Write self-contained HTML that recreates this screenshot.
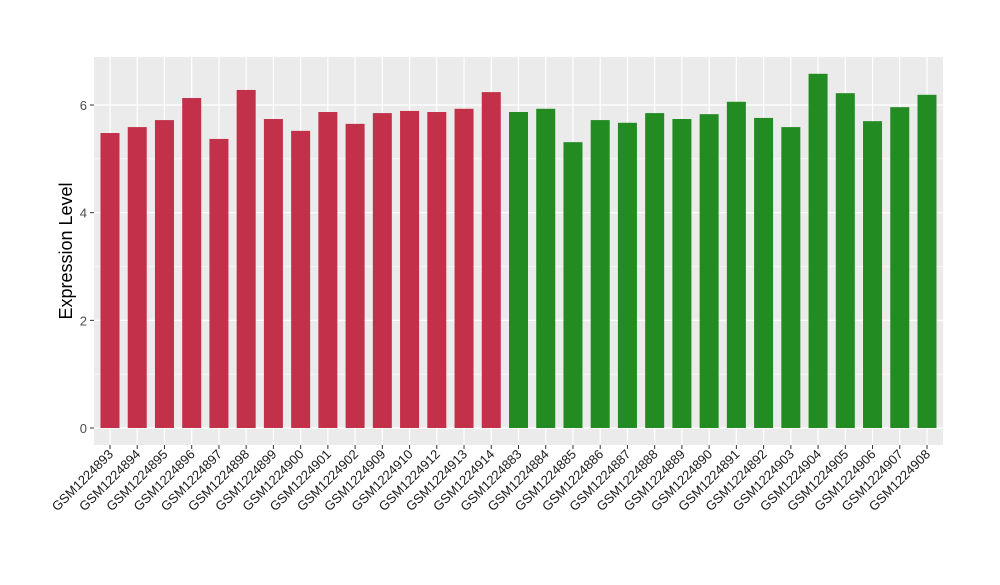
<!DOCTYPE html>
<html><head><meta charset="utf-8"><style>body{margin:0;background:#fff}svg text{font-family:"Liberation Sans",sans-serif}</style></head>
<body>
<svg id="chart" width="1000" height="580" xmlns="http://www.w3.org/2000/svg">
<rect x="94" y="57" width="849" height="388" fill="#EBEBEB"/>
<g id="grid"></g><g id="bars"></g><g id="yticks"></g><g id="xticks"></g>
<text transform="translate(72,251) rotate(-90)" text-anchor="middle" font-size="18" fill="#000">Expression Level</text>
</svg>
<script>
const categories=["GSM1224893","GSM1224894","GSM1224895","GSM1224896","GSM1224897","GSM1224898","GSM1224899","GSM1224900","GSM1224901","GSM1224902","GSM1224909","GSM1224910","GSM1224912","GSM1224913","GSM1224914","GSM1224883","GSM1224884","GSM1224885","GSM1224886","GSM1224887","GSM1224888","GSM1224889","GSM1224890","GSM1224891","GSM1224892","GSM1224903","GSM1224904","GSM1224905","GSM1224906","GSM1224907","GSM1224908"];
const values=[5.48,5.59,5.72,6.13,5.37,6.28,5.74,5.52,5.87,5.65,5.85,5.89,5.87,5.93,6.24,5.87,5.93,5.31,5.72,5.67,5.85,5.74,5.83,6.06,5.76,5.59,6.58,6.22,5.70,5.96,6.19];
const groups=["a","a","a","a","a","a","a","a","a","a","a","a","a","a","a","b","b","b","b","b","b","b","b","b","b","b","b","b","b","b","b"];
const yTicks=[0,2,4,6];
const colors={a:"#C3304A",b:"#228B22"};
const NS="http://www.w3.org/2000/svg";
const y=v=>428-v*53.83;
const x=i=>110+i*((927-110)/(categories.length-1));
const bw=19;
function mk(t,a,p){const e=document.createElementNS(NS,t);for(const k in a)e.setAttribute(k,a[k]);p.appendChild(e);return e;}
const grid=document.getElementById('grid');
for(let v=1;v<7;v+=2){const l=mk('line',{x1:94,x2:943,y1:y(v),y2:y(v),stroke:'#fff','stroke-width':0.6},grid);

}
yTicks.forEach(v=>{const l=mk('line',{x1:94,x2:943,y1:y(v),y2:y(v),stroke:'#fff','stroke-width':1.2},grid);


const tk=mk('line',{x1:90,x2:94,y1:y(v),y2:y(v),stroke:'#333'},document.getElementById('yticks'));


const t=mk('text',{x:87,y:y(v)+5,'text-anchor':'end','font-size':13,fill:'#4D4D4D'},document.getElementById('yticks'));
t.textContent=v;

});
categories.forEach((c,i)=>{const l=mk('line',{x1:x(i),x2:x(i),y1:57,y2:445,stroke:'#fff','stroke-width':1.2},grid);


const r=mk('rect',{x:x(i)-bw/2,y:y(values[i]),width:bw,height:y(0)-y(values[i]),fill:colors[groups[i]]},document.getElementById('bars'));


const tk=mk('line',{x1:x(i),x2:x(i),y1:445,y2:449,stroke:'#333'},document.getElementById('xticks'));


const t=mk('text',{transform:`translate(${x(i)+4},${455}) rotate(-45)`,'text-anchor':'end','font-size':13,fill:'#1a1a1a'},document.getElementById('xticks'));
t.textContent=c;

});
</script>
</body></html>
